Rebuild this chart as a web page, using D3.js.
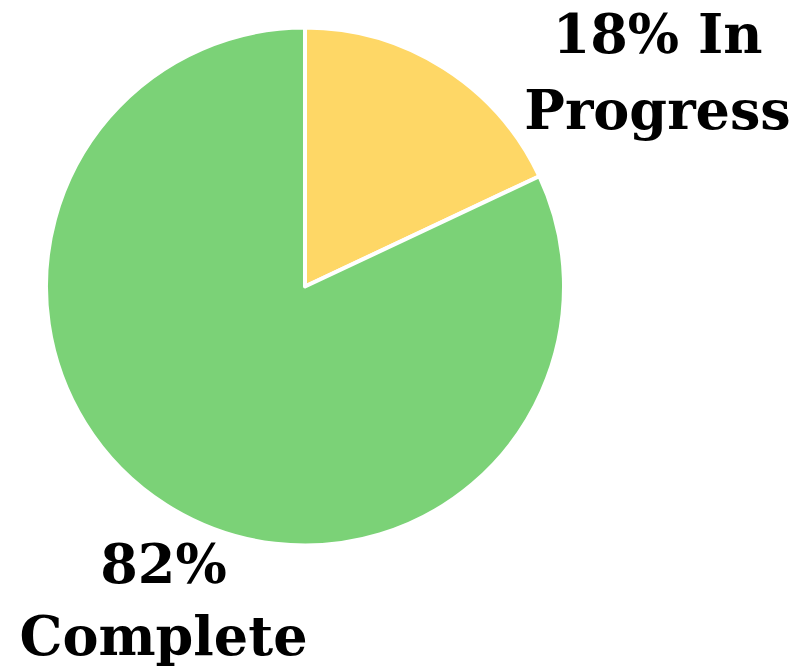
<!DOCTYPE html>
<html><head><meta charset="utf-8">
<script src="https://cdn.jsdelivr.net/npm/d3@7"></script>
<style>html,body{margin:0;padding:0;background:#fff;}svg{display:block;}</style>
</head><body>
<svg id="chart" width="812" height="670"></svg>
<script>
const categories = ["In Progress", "Complete"];
const values = [18, 82];
const colors = ["#FED766", "#7BD277"];
const labelLines = [["18% In", "Progress"], ["82%", "Complete"]];

const svg = d3.select("#chart");
const cx = 305, cy = 286.5, r = 259;
const g = svg.append("g").attr("transform", `translate(${cx},${cy})`);
const pie = d3.pie().sort(null).value(d => d)(values);
const arc = d3.arc().innerRadius(0).outerRadius(r);
g.selectAll("path").data(pie).join("path")
  .attr("d", arc)
  .attr("fill", (d,i) => colors[i])
  .attr("stroke", "#fff").attr("stroke-width", 4).attr("stroke-linejoin","round");

// label anchor offsets relative to outer centroid
const labelArc = d3.arc().innerRadius(r*1.2).outerRadius(r*1.2);
const offsets = [[186, 29], [25, 34]];
const lineGap = [76, 72];
pie.forEach((d,i) => {
  const c = labelArc.centroid(d);
  const t = g.append("text")
    .attr("text-anchor","middle")
    .attr("font-family","'DejaVu Serif', serif")
    .attr("font-weight","bold")
    .attr("font-size", 54)
    .attr("fill","#000");
  labelLines[i].forEach((line, j) => {
    t.append("tspan").attr("x", c[0] + offsets[i][0]).attr("y", c[1] + offsets[i][1] + j*lineGap[i]).text(line);
  });
});
</script>
</body></html>
